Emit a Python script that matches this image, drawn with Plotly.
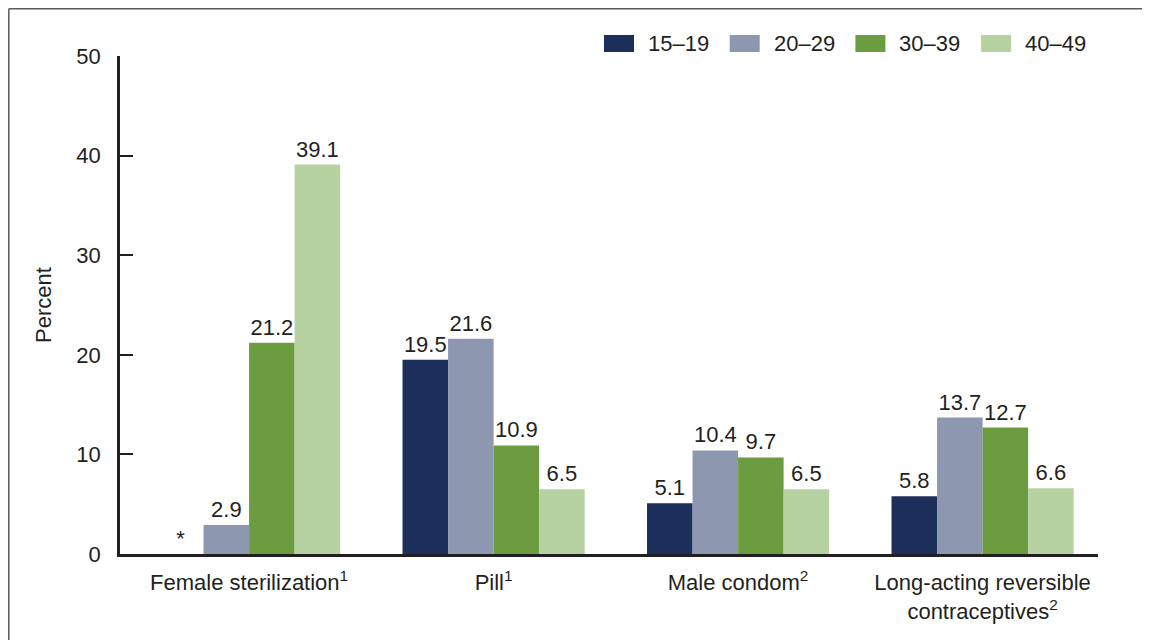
import plotly.graph_objects as go

categories = ["Female sterilization<sup>1</sup>", "Pill<sup>1</sup>", "Male condom<sup>2</sup>",
              "Long-acting reversible<br>contraceptives<sup>2</sup>"]
age_groups = ["15–19", "20–29", "30–39", "40–49"]
values_15_19 = [None, 19.5, 5.1, 5.8]
values_20_29 = [2.9, 21.6, 10.4, 13.7]
values_30_39 = [21.2, 10.9, 9.7, 12.7]
values_40_49 = [39.1, 6.5, 6.5, 6.6]
colors = ["#1c2e5a", "#8d97b0", "#6b9c40", "#b6d2a0"]
y_ticks = [0, 10, 20, 30, 40, 50]

series = [values_15_19, values_20_29, values_30_39, values_40_49]
FONT = "Liberation Sans, Arial, sans-serif"
TXT = "#231f20"
FS = 22

# page body has an 8px margin; compensate so the figure lands where the reference is
L, T, PW, PH = 112, 48, 978, 498
W, H = 1142, 632

fig = go.Figure()
for name, vals, col in zip(age_groups, series, colors):
    fig.add_trace(go.Bar(
        x=categories,
        y=[v if v is not None else 0 for v in vals],
        name=name,
        marker=dict(color=col, line=dict(width=0)),
        text=["*" if v is None else f"{v:.1f}" for v in vals],
        textposition="outside",
        textfont=dict(size=FS, color=TXT, family=FONT),
        cliponaxis=False,
        showlegend=False,
    ))

# custom legend with wide swatches (page-pixel positions mapped to paper coords)
def px_x(p):
    return (p - 120) / PW

def px_y(p):
    return (554 - p) / PH

for i, (name, col) in enumerate(zip(age_groups, colors)):
    sx = 604 + i * 125.7
    fig.add_shape(type="rect", xref="paper", yref="paper",
                  x0=px_x(sx), x1=px_x(sx + 30), y0=px_y(52), y1=px_y(35),
                  fillcolor=col, line=dict(width=0))
    fig.add_annotation(xref="paper", yref="paper", x=px_x(sx + 42), y=px_y(44),
                       text=name, showarrow=False, xanchor="left", yanchor="middle",
                       font=dict(size=FS, color=TXT, family=FONT))

# outer frame (top and left edges visible; right/bottom fall outside the page)
fig.add_shape(type="line", xref="paper", yref="paper",
              x0=px_x(8.8), x1=px_x(1200), y0=px_y(8.8), y1=px_y(8.8),
              line=dict(color="#5a5a5a", width=1.5))
fig.add_shape(type="line", xref="paper", yref="paper",
              x0=px_x(8.8), x1=px_x(8.8), y0=px_y(8.8), y1=px_y(700),
              line=dict(color="#5a5a5a", width=1.5))

fig.update_layout(
    width=W, height=H,
    margin=dict(l=L, r=W - L - PW, t=T, b=H - T - PH, autoexpand=False),
    barmode="group",
    bargap=0.255,
    bargroupgap=0,
    plot_bgcolor="white",
    paper_bgcolor="white",
    font=dict(family=FONT, size=FS, color=TXT),
    xaxis=dict(showline=True, linecolor="#231f20", linewidth=2.5, ticks="",
               range=[-0.528, 3.472], ticklabelstandoff=7,
               tickfont=dict(size=FS, color=TXT), showgrid=False, zeroline=False),
    yaxis=dict(range=[0, 50], tickvals=y_ticks, showline=True, linecolor="#231f20", linewidth=2.5,
               ticks="inside", ticklen=13, tickwidth=2, tickcolor="#231f20",
               showgrid=False, zeroline=False, ticklabelstandoff=12,
               tickfont=dict(size=FS, color=TXT),
               title=dict(text="Percent", font=dict(size=FS, color=TXT), standoff=19)),
)

fig.write_html("out.html")
